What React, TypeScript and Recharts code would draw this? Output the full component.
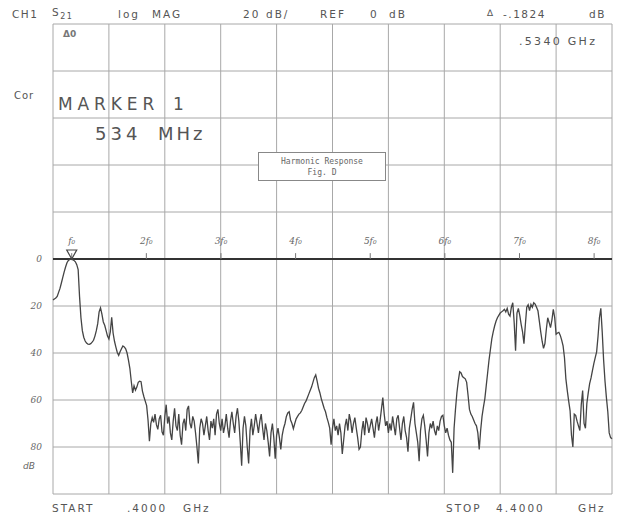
import { LineChart, Line, XAxis, YAxis, CartesianGrid, ReferenceLine, ReferenceDot } from 'recharts';

// sweep: 401 points, 0.4 .. 4.4 GHz
const START_GHZ = 0.4;
const STEP_GHZ = 0.01;
const F0_GHZ = 0.534;

const freqTicks = [0.4, 0.8, 1.2, 1.6, 2.0, 2.4, 2.8, 3.2, 3.6, 4.0, 4.4];
const dbTicks = [100, 80, 60, 40, 20, 0, -20, -40, -60, -80, -100];
const dbLabelValues = [0, -20, -40, -60, -80];
const harmonics = [1, 2, 3, 4, 5, 6, 7, 8];
const harmonicLabels = ['f₀', '2f₀', '3f₀', '4f₀', '5f₀', '6f₀', '7f₀', '8f₀'];

// S21 log mag (dB), one division (40 points) per block
const s21Db = [
  // 0.4 - 0.8 GHz
  -17.4, -17, -16.6, -15.9, -14.2, -12.5, -10.2, -7.8, -5.5, -3.4, -1.6, -0.6, -0.2, -0.18, -0.3, -0.6, -1.2, -2.4, -4.5, -16,
  -25, -30.5, -33.3, -34.9, -35.8, -36.2, -36.3, -36, -35.4, -34.6, -32.8, -30.5, -27.5, -22.5, -20.8, -23.5, -26.8, -28.2, -30.5, -32.8,
  // 0.8 - 1.2 GHz
  -34, -31, -24.8, -31.5, -35, -37.5, -39.8, -41, -39.5, -38.2, -37, -37.4, -38.2, -40, -43, -46.5, -52, -57, -54, -55.8,
  -54.5, -52.5, -52, -52.2, -56.2, -58.5, -60.5, -62.4, -68.5, -77.5, -70, -67.5, -69.5, -66, -70.5, -72.5, -68, -66.5, -73.5, -75,
  // 1.2 - 1.6 GHz
  -67, -62, -70, -67, -74, -77, -69, -63.5, -71, -73, -66, -75, -79, -70, -68, -73, -64, -62.5, -70, -72,
  -67, -69, -74, -80, -87, -72, -68, -70, -75, -71, -67, -73, -77, -69, -72, -68, -75, -66, -64, -70,
  // 1.6 - 2.0 GHz
  -73, -68, -74, -71, -66, -72, -76, -69, -65, -70, -74, -67, -63.5, -69, -78, -88, -72, -67, -71, -80,
  -87, -73, -68, -75, -71, -66, -70, -74, -69, -66, -72, -77, -70, -73, -78, -84, -74, -70, -76, -85,
  // 2.0 - 2.4 GHz
  -75, -72, -76, -81, -75, -72, -70, -67, -65.5, -65, -68.5, -70, -72.2, -70, -68, -67, -66, -65.5, -64.5, -63,
  -61.5, -60.5, -59, -57.5, -56, -54.5, -52.5, -50.5, -49.3, -52, -55, -57, -59.5, -61.5, -63.5, -65, -67.5, -69.5, -72, -79,
  // 2.4 - 2.8 GHz
  -72, -68, -73, -71, -75, -70, -74, -83, -77, -71, -68, -73, -66, -69, -74, -70, -67.5, -72, -76, -81,
  -80, -73, -69, -75, -67.5, -70, -74, -71, -68, -72, -76, -70, -67, -73, -69, -64, -59, -66, -71, -69,
  // 2.8 - 3.2 GHz
  -74, -70, -73, -67, -71, -75, -68, -66.5, -72, -77, -70, -67, -73, -76, -82, -72, -68, -64, -61, -70,
  -74, -78, -86, -73, -68, -66.5, -71, -77, -84, -74, -70, -72, -69, -73, -75, -71, -73, -69, -67, -66.5,
  // 3.2 - 3.6 GHz
  -71, -74, -72, -75, -77, -78, -91, -72, -64, -57, -52, -48, -48.5, -50, -50.5, -51, -52.5, -58, -64, -66,
  -67, -68.5, -70, -71, -74, -81, -73, -67, -63, -59.5, -54, -48.5, -43, -38.5, -34, -31, -28.5, -26.5, -25, -24,
  // 3.6 - 4.0 GHz
  -23, -22.5, -22, -21.4, -22.5, -21, -23.5, -24.3, -20.5, -18.6, -27, -39, -23, -21, -24, -27.8, -31, -36, -28, -20.5,
  -19.5, -22, -19.3, -20.5, -18.6, -19.2, -20.5, -22, -26.4, -31, -35, -38, -36, -30, -25, -27, -29.2, -26, -21.4, -25,
  // 4.0 - 4.4 GHz
  -32, -31.5, -31.2, -32.5, -34.5, -37, -42, -51, -56, -60.5, -64.5, -75, -80, -66, -66.5, -69, -71, -73, -62, -56,
  -70, -72, -61.5, -57, -53, -50.6, -47.5, -44.5, -42, -39.5, -33, -25, -21, -31, -43, -52, -59, -65, -74, -76,
  -76.5,
];

const data = s21Db.map((db, i) => ({ freq: +(START_GHZ + i * STEP_GHZ).toFixed(3), db }));

const INK = '#444';
const GRID = '#a8a8a8';
const plotFont = '"DejaVu Sans", sans-serif';

const MarkerTriangle = (props: any) => {
  const { cx, cy } = props;
  return (
    <path
      d={`M${cx},${cy} L${cx - 5},${cy - 9} L${cx + 5},${cy - 9} Z`}
      fill="none"
      stroke={INK}
      strokeWidth={1.2}
    />
  );
};

const DbTick = (props: any) => {
  const { x, y, payload } = props;
  if (!dbLabelValues.includes(payload.value)) return null;
  return (
    <text x={x - 3} y={y + 3} textAnchor="end" fontSize={9} fill="#666" fontStyle="italic" fontFamily="'DejaVu Serif', serif">
      {String(Math.abs(payload.value))}
    </text>
  );
};

const txt = (left: number, top: number, size: number, spacing = 1.5): React.CSSProperties => ({
  position: 'absolute',
  left,
  top,
  fontSize: size,
  letterSpacing: spacing,
  fontFamily: plotFont,
  color: '#555',
  whiteSpace: 'nowrap',
  lineHeight: 1,
});

export default function App() {
  return (
    <div style={{ position: 'absolute', left: 0, top: 0, width: 622, height: 521, background: '#fff' }}>
      <LineChart width={622} height={521} data={data} margin={{ top: 24, right: 10, bottom: 0, left: 0 }}>
        <CartesianGrid stroke={GRID} strokeWidth={1} vertical={false} />
        <XAxis
          dataKey="freq"
          type="number"
          domain={[0.4, 4.4]}
          ticks={freqTicks}
          tick={false}
          tickLine={false}
          axisLine={false}
          height={27}
        />
        <YAxis
          type="number"
          domain={[-100, 100]}
          ticks={dbTicks}
          width={53}
          tickLine={false}
          axisLine={false}
          tick={<DbTick />}
          interval={0}
        />
        {/* vertical graticule, one line per 0.4 GHz division */}
        {freqTicks.map((f) => (
          <ReferenceLine
            key={`v${f}`}
            segment={[{ x: f, y: -100 }, { x: f, y: 100 }]}
            stroke={GRID}
            strokeWidth={1}
          />
        ))}
        <ReferenceLine y={0} stroke="#333" strokeWidth={2} />
        {harmonics.map((k, i) => (
          <ReferenceLine
            key={k}
            segment={[{ x: k * F0_GHZ, y: 0 }, { x: k * F0_GHZ, y: 2.5 }]}
            stroke="#777"
            strokeWidth={1}
            label={{
              value: harmonicLabels[i],
              position: 'top',
              fontSize: 9,
              fill: '#666',
              fontStyle: 'italic',
              fontFamily: "'DejaVu Serif', serif",
              dy: -4,
            }}
          />
        ))}
        <Line
          type="linear"
          dataKey="db"
          stroke={INK}
          strokeWidth={1.3}
          dot={false}
          isAnimationActive={false}
        />
        <ReferenceDot x={F0_GHZ} y={0} r={5} shape={<MarkerTriangle />} />
      </LineChart>

      {/* instrument annotations */}
      <div style={txt(12, 9, 10.5)}>CH1</div>
      <div style={txt(52, 7, 10.5)}>
        S<sub style={{ fontSize: 8 }}>21</sub>
      </div>
      <div style={txt(118, 9, 10.5, 2)}>log</div>
      <div style={txt(152, 9, 10.5, 2)}>MAG</div>
      <div style={txt(243, 9, 10.5, 2)}>20</div>
      <div style={txt(266, 9, 10.5, 2)}>dB/</div>
      <div style={txt(320, 9, 10.5, 2)}>REF</div>
      <div style={txt(370, 9, 10.5, 2)}>0</div>
      <div style={txt(389, 9, 10.5, 2)}>dB</div>
      <div style={txt(487, 9, 9, 0)}>∆</div>
      <div style={txt(503, 9, 10.5)}>-.1824</div>
      <div style={txt(589, 9, 10.5)}>dB</div>
      <div style={txt(519, 36, 11, 2.3)}>.5340 GHz</div>
      <div style={{ ...txt(63, 30, 9, 0), fontWeight: 'bold', color: '#777' }}>Δ0</div>

      <div style={txt(14, 91, 10, 1)}>Cor</div>
      <div style={txt(58, 96, 17, 4.9)}>MARKER</div>
      <div style={txt(173, 96, 17, 0)}>1</div>
      <div style={txt(95, 125, 18, 4)}>534</div>
      <div style={txt(158, 125, 18, 3)}>MHz</div>

      <div
        style={{
          position: 'absolute',
          left: 258,
          top: 152,
          width: 128,
          height: 29,
          border: '1px solid #888',
          background: '#fff',
          fontFamily: '"DejaVu Sans Mono", monospace',
          fontSize: 8,
          color: '#666',
          textAlign: 'center',
          lineHeight: '11px',
          paddingTop: 3,
          boxSizing: 'border-box',
        }}
      >
        Harmonic Response
        <br />
        Fig. D
      </div>

      <div style={{ ...txt(23, 462, 9, 0), fontStyle: 'italic', color: '#666' }}>dB</div>
      <div style={txt(52, 503, 10.5, 2)}>START</div>
      <div style={txt(127, 503, 10.5, 2)}>.4000</div>
      <div style={txt(183, 503, 10.5, 2)}>GHz</div>
      <div style={txt(446, 503, 10.5, 2)}>STOP</div>
      <div style={txt(496, 503, 10.5, 2)}>4.4000</div>
      <div style={txt(578, 503, 10.5, 2)}>GHz</div>
    </div>
  );
}
